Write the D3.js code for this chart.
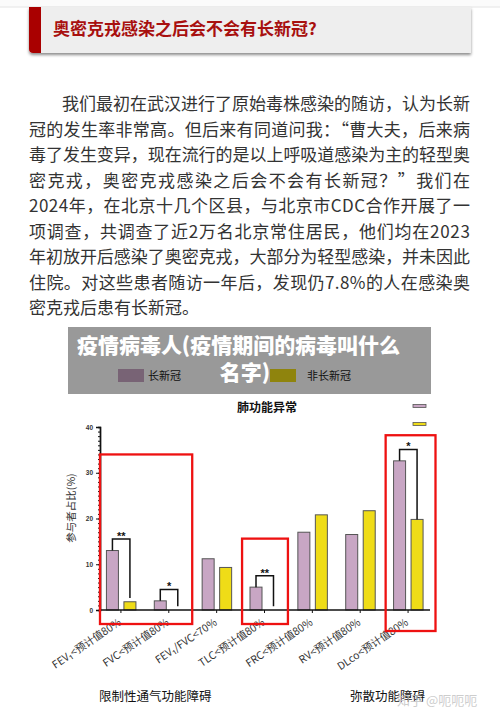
<!DOCTYPE html>
<html><head><meta charset="utf-8">
<script src="https://cdn.jsdelivr.net/npm/d3@7"></script>
<style>
html,body{margin:0;padding:0;background:#fff;}
svg{display:block;font-family:"Noto Sans CJK SC","Noto Sans",sans-serif;}
</style></head>
<body>
<svg id="c" width="500" height="721"></svg>
<script>
// ---- data ----
const headline = "奥密克戎感染之后会不会有长新冠?";
const paragraph = [
  "我们最初在武汉进行了原始毒株感染的随访，认为长新",
  "冠的发生率非常高。但后来有同道问我：“曹大夫，后来病",
  "毒了发生变异，现在流行的是以上呼吸道感染为主的轻型奥",
  "密克戎，奥密克戎感染之后会不会有长新冠？”我们在",
  "2024年，在北京十几个区县，与北京市CDC合作开展了一",
  "项调查，共调查了近2万名北京常住居民，他们均在2023",
  "年初放开后感染了奥密克戎，大部分为轻型感染，并未因此",
  "住院。对这些患者随访一年后，发现仍7.8%的人在感染奥",
  "密克戎后患有长新冠。"
];
const overlayLines = ["疫情病毒人(疫情期间的病毒叫什么", "名字)"];
const chartTitle = "肺功能异常";
const yLabel = "参与者占比(%)";
const seriesNames = ["长新冠", "非长新冠"];
const categories = ["FEV₁<预计值80%", "FVC<预计值80%", "FEV₁/FVC<70%", "TLC<预计值80%", "FRC<预计值80%", "RV<预计值80%", "DLco<预计值80%"];
const longCovid = [13, 2, 11.2, 5, 17, 16.5, 32.6];
const nonLongCovid = [1.8, 0, 9.3, 0, 20.8, 21.7, 19.8];
const significance = [
  {cat: 0, mark: "**"},
  {cat: 1, mark: "*"},
  {cat: 3, mark: "**"},
  {cat: 6, mark: "*"}
];
const yTicks = [0, 10, 20, 30, 40];
const highlights = [
  {from: 0, to: 1, top: 34},
  {from: 3, to: 3, top: 15.6},
  {from: 6, to: 6, top: 38.2}
];
const groupLabels = [
  {text: "限制性通气功能障碍", cat: 0},
  {text: "弥散功能障碍", cat: 5}
];
const watermark = "知乎 @呃呃呃";

// ---- drawing ----
const svg = d3.select("#c");
const defs = svg.append("defs");
const f = defs.append("filter").attr("id","sh").attr("x","-5%").attr("y","-20%").attr("width","110%").attr("height","160%");
f.append("feDropShadow").attr("dx",0).attr("dy",2).attr("stdDeviation",1.5).attr("flood-color","#000").attr("flood-opacity",0.45);

// page header strip
svg.append("rect").attr("x",0).attr("y",0).attr("width",500).attr("height",7).attr("fill","#fbfbfb");
svg.append("line").attr("x1",0).attr("x2",500).attr("y1",7).attr("y2",7).attr("stroke","#e4e4e4");

// headline box
svg.append("path").attr("d","M29,7 H471 V53 H33 Q29,53 29,49 Z").attr("fill","#eeeeee").attr("filter","url(#sh)");
svg.append("path").attr("d","M29,7 H41 V53 H33 Q29,53 29,49 Z").attr("fill","#a90000");
svg.append("text").attr("x",53).attr("y",35).attr("font-size",17).attr("font-weight","bold")
  .attr("fill","#a8100f").text(headline);

// paragraph
const pg = svg.append("g").attr("fill","#333").attr("font-size",17);
paragraph.forEach((t,i)=>{
  const x = i===0 ? 62 : 29;
  const tx = pg.append("text").attr("x",x).attr("y",110 + i*25.5).text(t);
  if(i < paragraph.length-1){ tx.attr("textLength", 470 - x).attr("lengthAdjust","spacing"); }
});

// ---- chart ----
const y = d3.scaleLinear().domain([0,40]).range([610,427]);
const x0 = d3.scaleBand().domain(categories).range([97,432]).padding(0);
const x1 = d3.scaleBand().domain(seriesNames).range([-14.5,15]).paddingInner(0.314).paddingOuter(0);
const colors = d3.scaleOrdinal().domain(seriesNames).range(["#c8a6c4","#efdc17"]);
const cx = c => x0(c) + x0.bandwidth()/2;

// legend (under the overlay)
const leg = [{name: seriesNames[0], sx: 118, tx: 148}, {name: seriesNames[1], sx: 270, tx: 307}];
leg.forEach(l=>{
  svg.append("rect").attr("x",l.sx).attr("y",369).attr("width",26).attr("height",13).attr("fill",colors(l.name));
  svg.append("text").attr("x",l.tx).attr("y",380).attr("font-size",11).attr("fill","#222").text(l.name);
});

// chart title
svg.append("text").attr("x",267).attr("y",412).attr("text-anchor","middle").attr("font-size",12)
  .attr("font-weight","bold").attr("fill","#111").text(chartTitle);

// small legend keys at right
seriesNames.forEach((s,i)=>{
  svg.append("rect").attr("x",413).attr("y",404.5 + i*18).attr("width",13).attr("height",3)
    .attr("fill",colors(s)).attr("stroke","#555").attr("stroke-width",0.8);
});

// y axis
const yAxisG = svg.append("g").attr("transform","translate(100,0)");
yAxisG.call(d3.axisLeft(y).tickValues(d3.range(0,41,1)).tickSize(2).tickFormat(""));
yAxisG.append("g").call(d3.axisLeft(y).tickValues(yTicks).tickSize(4).tickFormat(d3.format("d")));
yAxisG.selectAll("path.domain").attr("stroke","#111").attr("stroke-width",1.4);
yAxisG.selectAll(".tick line").attr("stroke","#111").attr("stroke-width",1);
yAxisG.selectAll("text").attr("font-size",6.5).attr("font-weight","bold").attr("fill","#333")
  .attr("font-family","Liberation Sans, Arial, sans-serif");

// y label
svg.append("text").attr("transform","translate(75,508) rotate(-90)").attr("text-anchor","middle")
  .attr("font-size",10.5).attr("fill","#333").text(yLabel);

// bars
const rows = categories.map((c,i)=>({cat:c, vals:[{s:seriesNames[0], v:longCovid[i]},{s:seriesNames[1], v:nonLongCovid[i]}]}));
const bg = svg.append("g").selectAll("g").data(rows).join("g").attr("transform",d=>`translate(${cx(d.cat)},0)`);
bg.selectAll("rect").data(d=>d.vals.filter(v=>v.v>0)).join("rect")
  .attr("x",d=>x1(d.s)).attr("width",x1.bandwidth())
  .attr("y",d=>y(d.v)).attr("height",d=>y(0)-y(d.v))
  .attr("fill",d=>colors(d.s)).attr("stroke","#555").attr("stroke-width",1);

// x axis
const xAxisG = svg.append("g").attr("transform","translate(0,610)");
xAxisG.append("line").attr("x1",100).attr("x2",430).attr("stroke","#111").attr("stroke-width",1.4);
xAxisG.selectAll("line.t").data(categories).join("line").attr("class","t")
  .attr("x1",d=>cx(d)).attr("x2",d=>cx(d)).attr("y1",0).attr("y2",3).attr("stroke","#111");
svg.append("g").selectAll("text").data(categories).join("text")
  .attr("transform",d=>`translate(${cx(d)-1},621) rotate(-34)`)
  .attr("text-anchor","end").attr("dy","0.35em").attr("font-size",10.5).attr("fill","#333")
  .text(d=>d);

// significance brackets
const sg = svg.append("g");
significance.forEach(s=>{
  const c = categories[s.cat];
  const xl = cx(c) + x1(seriesNames[0]) + x1.bandwidth()/2;
  const xr = cx(c) + x1(seriesNames[1]) + x1.bandwidth()/2;
  const topV = longCovid[s.cat] + 2.5;
  const rightV = nonLongCovid[s.cat] + (nonLongCovid[s.cat] > 5 ? 0 : 0.8);
  sg.append("path").attr("d",`M${xl},${y(longCovid[s.cat])} V${y(topV)} H${xr} V${y(rightV)}`)
    .attr("fill","none").attr("stroke","#111").attr("stroke-width",1.5);
  sg.append("text").attr("x",(xl+xr)/2).attr("y",y(topV)+1).attr("text-anchor","middle")
    .attr("font-size",11).attr("font-weight","bold").attr("fill","#111")
    .attr("font-family","Liberation Sans, Arial, sans-serif").text(s.mark);
});

// highlight boxes
highlights.forEach((h,i)=>{
  const left = Math.max(100, x0(categories[h.from]) + 1.5);
  const right = x0(categories[h.to]) + x0.bandwidth() - 0.5 + (i===2 ? 4 : 0);
  const bottom = i===2 ? 631 : 624;
  svg.append("rect").attr("x",left).attr("y",y(h.top)).attr("width",right-left).attr("height",bottom-y(h.top))
    .attr("fill","none").attr("stroke","#ee1111").attr("stroke-width",2.3);
});

// group labels
groupLabels.forEach(g=>{
  svg.append("text").attr("x", g.cat===0 ? 99 : 350).attr("y",701).attr("font-size",12.5)
    .attr("fill","#111").text(g.text);
});

// watermark
svg.append("text").attr("x",397).attr("y",705).attr("font-size",13).attr("fill","#c4c4c4")
  .attr("fill-opacity",0.85).text(watermark);

// overlay banner
svg.append("rect").attr("x",68).attr("y",327).attr("width",363).attr("height",67).attr("fill","rgba(0,0,0,0.4)");
svg.append("text").attr("x",77).attr("y",353).attr("font-size",21).attr("font-weight",900)
  .attr("textLength",323).attr("lengthAdjust","spacing")
  .attr("fill","#fff").text(overlayLines[0]);
svg.append("text").attr("x",245).attr("y",380).attr("text-anchor","middle").attr("font-size",21)
  .attr("font-weight",900).attr("fill","#fff").text(overlayLines[1]);
</script>
</body></html>
